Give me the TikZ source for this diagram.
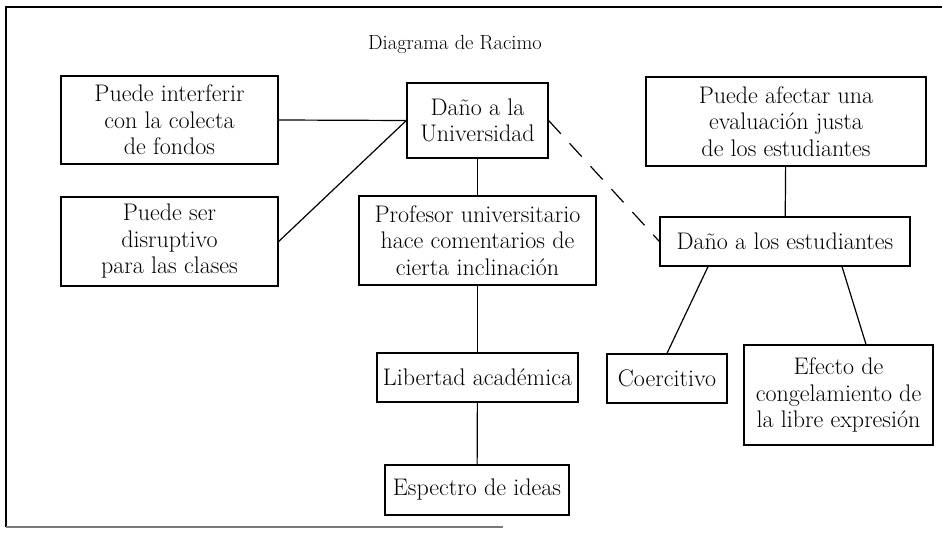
\documentclass[tikz,border=0pt]{standalone}
\usepackage{fontspec}
\usepackage{tikz}
\usetikzlibrary{arrows,shapes}
\definecolor{frame_gray}{RGB}{120,120,120}

\begin{document}
\begin{tikzpicture}[semithick,x=1pt,y=-1pt]
    \tikzstyle{title}=[text=black,font=\fontsize{20.5}{24}\selectfont]
    \tikzstyle{idea}=[draw=black,line width=1.3pt,rectangle,align=center,inner sep=0pt,text=black,font=\fontsize{24}{26.5}\selectfont]
    \tikzstyle{link}=[draw=black,line width=1.2pt]

    \useasboundingbox (0,0) rectangle (942,537);
    % marco
    \draw[line width=2.5pt] (942,7) -- (6,7) -- (6,527);
    \draw[frame_gray,line width=1.5pt] (6,527) -- (503,527);

    \node[title] (T) at (455,44) {Diagrama de Racimo};

    \node[idea,minimum width=217,minimum height=88] (A) at (169.5,120) {Puede interferir\\con la colecta\\de fondos};
    \node[idea,minimum width=217,minimum height=89] (B) at (169.5,241.5) {Puede ser\\disruptivo\\para las clases};
    \node[idea,minimum width=141,minimum height=75] (C) at (477.5,120.5) {Daño a la\\Universidad};
    \node[idea,minimum width=237,minimum height=89] (D) at (477.5,240.5) {Profesor universitario\\hace comentarios de\\cierta inclinación};
    \node[idea,minimum width=280,minimum height=89] (E) at (786,121.5) {Puede afectar una\\evaluación justa\\de los estudiantes};
    \node[idea,minimum width=250,minimum height=49] (F) at (785,241.5) {Daño a los estudiantes};
    \node[idea,minimum width=201,minimum height=49] (G) at (477.5,377.5) {Libertad académica};
    \node[idea,minimum width=184,minimum height=50] (H) at (477,490) {Espectro de ideas};
    \node[idea,minimum width=120,minimum height=49] (I) at (667,378.5) {Coercitivo};
    \node[idea,minimum width=189,minimum height=100] (J) at (838.5,395) {Efecto de\\congelamiento de\\la libre expresión};

    \path[link]
     (A.east) edge (C.west)
     (B.east) edge (C.west)
     (C) edge (D)
     (D) edge (G)
     (G) edge (H)
     (E) edge (F)
     (C.east) edge[dash pattern=on 18pt off 13pt] (F.west)
     ([xshift=-77pt]F.south) edge (I.north)
     ([xshift=57pt]F.south) edge ([xshift=27.5pt]J.north);
\end{tikzpicture}
\end{document}
